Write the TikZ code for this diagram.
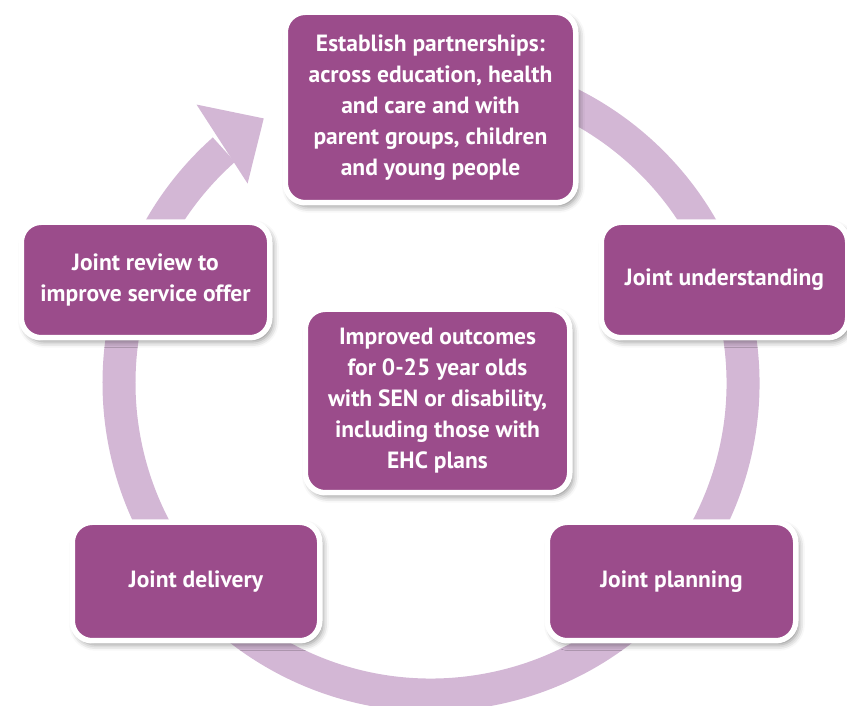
\documentclass[tikz,border=0pt]{standalone}
\usepackage{fontspec}
\setmainfont{PT Sans}
\usetikzlibrary{calc}
\usetikzlibrary{shadows.blur}
\definecolor{plum}{RGB}{155,76,139}
\definecolor{lilac}{RGB}{211,183,213}
\tikzset{stage/.style={draw=white, line width=5.5pt, fill=plum, rounded corners=20pt,
   text=white, font=\bfseries\fontsize{23.5}{31}\selectfont, align=center, inner sep=0pt,
   blur shadow={shadow xshift=3pt, shadow yshift=-4pt, shadow blur radius=6pt, shadow opacity=45}},
 ring/.style={draw=lilac, line width=33pt},
 }

\begin{document}
\begin{tikzpicture}[x=1pt, y=1pt]
        \useasboundingbox (0,0) rectangle (847,706);
        \coordinate (hub) at (431,323);
        \draw[ring] (hub) ++(100:312) arc[start angle=100, end angle=-228.4, radius=312];
        \fill[lilac] ($(hub)+(122.3:313)$) -- ($(hub)+(130.1:364)$) -- ($(hub)+(132.6:271)$) -- cycle;

        \node[stage, minimum width=290.5, minimum height=190.5] (partners) at (430.5,598.5)
            {Establish partnerships:\\across education, health\\and care and with\\parent groups, children\\and young people};
        \node[stage, minimum width=246.5, minimum height=115.5] (understand) at (724.5,426) {Joint understanding};
        \node[stage, minimum width=248.5, minimum height=118.5] (planning) at (671.5,124.5) {Joint planning};
        \node[stage, minimum width=247.5, minimum height=118.5] (delivery) at (196,124.5) {Joint delivery};
        \node[stage, minimum width=248.5, minimum height=115.5] (review) at (145.5,426) {Joint review to\\improve service offer};
        \node[stage, minimum width=264.5, minimum height=183.5] (outcomes) at (437.5,305)
            {Improved outcomes\\for 0-25 year olds\\with SEN or disability,\\including those with\\EHC plans};
\end{tikzpicture}
\end{document}
